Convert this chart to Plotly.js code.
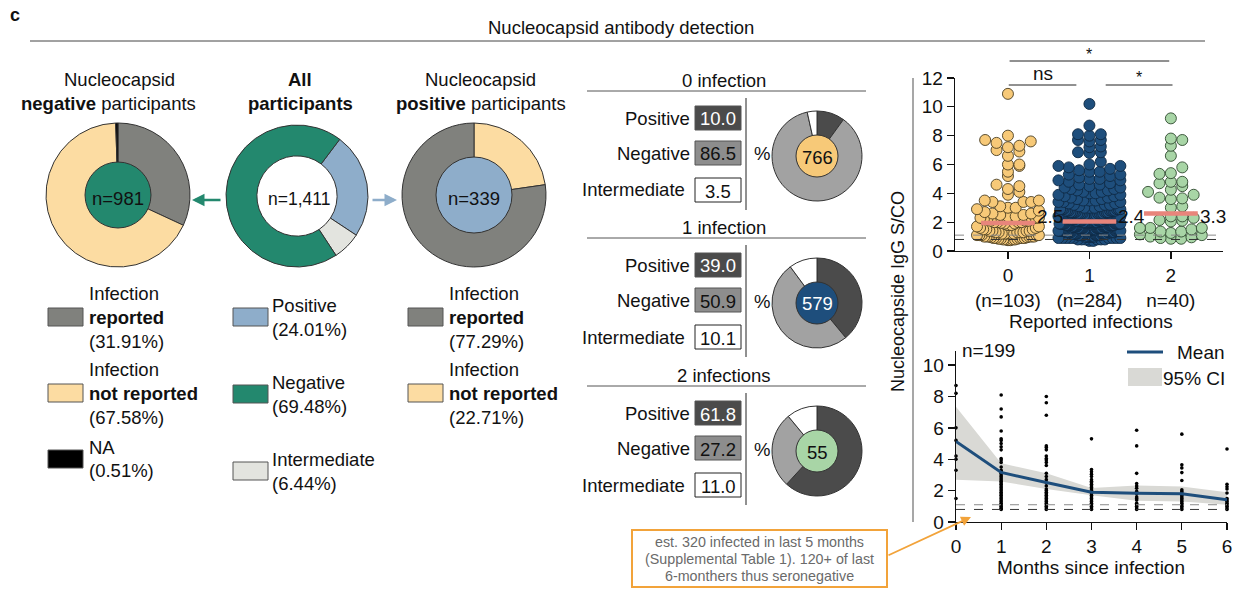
<!DOCTYPE html>
<html><head><meta charset="utf-8">
<script src="https://cdn.plot.ly/plotly-3.0.1.min.js"></script>
<style>html,body{margin:0;padding:0;background:#fff}#chart{width:1258px;height:591px}</style>
</head><body><div id="chart"></div>
<script>
// ================= DATA =================
const negLabels = ['Infection reported', 'Infection not reported', 'NA'];
const negValues = [31.91, 67.58, 0.51];
const negTotal = 981;
const allLabels = ['Positive', 'Intermediate', 'Negative'];
const allValues = [24.01, 6.44, 69.48];
const allTotal = 1411;
const posLabels = ['Infection not reported', 'Infection reported'];
const posValues = [22.71, 77.29];
const posTotal = 339;

const infectionGroups = ['0 infection', '1 infection', '2 infections'];
const groupTotals = [766, 579, 55];
const rowLabels = ['Positive', 'Negative', 'Intermediate'];
const pctPositive = [10.0, 39.0, 61.8];
const pctNegative = [86.5, 50.9, 27.2];
const pctIntermediate = [3.5, 10.1, 11.0];

const swarmCategories = [0, 1, 2];
const swarmTickText = ['0<br>(n=103)', '1<br>(n=284)', '2<br>n=40)'];
const igg0 = [10.9, 8.0, 7.7, 7.6, 7.5, 7.3, 7.2, 7.0, 6.9, 6.6, 6.0, 5.9, 6.0, 5.5, 5.2, 4.6, 4.5, 4.3, 4.1, 3.9,
  3.5, 3.5, 3.4, 3.4, 3.4, 3.1, 3.0, 3.0, 2.9, 2.8,
  2.7, 2.6, 2.6, 2.5, 2.5, 2.4, 2.4, 2.3, 2.3, 2.3, 2.2, 2.2, 2.2, 2.1, 2.1, 2.1, 2.0, 2.0, 2.0, 2.0, 1.95,
  1.9, 1.9, 1.8, 1.8, 1.7, 1.7, 1.6, 1.6, 1.5, 1.5, 1.5, 1.4, 1.4, 1.4, 1.4, 1.3, 1.3, 1.3, 1.3, 1.3,
  1.2, 1.2, 1.2, 1.2, 1.2, 1.1, 1.1, 1.1, 1.1, 1.1, 1.0, 1.0, 1.0, 1.0, 1.0, 1.0, 0.95, 0.95, 0.9, 0.9,
  0.9, 0.9, 0.9, 0.85, 0.85, 0.85, 0.8, 0.8, 0.8, 0.8, 0.75, 0.75];
const igg1 = [10.2, 8.7, 8.1, 8.1, 8.0, 7.7, 7.6, 7.7, 7.25, 7.2, 6.85, 6.8, 6.85, 6.2,
  6.0, 5.9, 5.9, 5.8, 5.7, 5.6, 5.5, 5.5,
  5.3, 5.3, 5.2, 5.1, 5.0, 5.0, 4.9, 4.9, 4.8,
  4.7, 4.6, 4.6, 4.5, 4.4, 4.4, 4.3, 4.3, 4.2, 4.2,
  4.1, 4.1, 4.0, 4.0, 3.9, 3.9, 3.8, 3.8, 3.7, 3.7, 3.6, 3.6,
  3.5, 3.5, 3.5, 3.4, 3.4, 3.4, 3.3, 3.3, 3.2, 3.2, 3.2, 3.1, 3.1, 3.0, 3.0, 3.0,
  2.9, 2.9, 2.9, 2.9, 2.9, 2.9, 2.8, 2.8, 2.8, 2.8, 2.8, 2.8, 2.8,
  2.7, 2.7, 2.7, 2.7, 2.7, 2.7, 2.7, 2.6, 2.6, 2.6, 2.6, 2.6, 2.6, 2.6, 2.6,
  2.5, 2.5, 2.5, 2.5, 2.5, 2.5, 2.5, 2.5, 2.4, 2.4, 2.4, 2.4, 2.4, 2.4, 2.4, 2.4, 2.4,
  2.3, 2.3, 2.3, 2.3, 2.3, 2.3, 2.3, 2.3, 2.3, 2.2, 2.2, 2.2, 2.2, 2.2, 2.2, 2.2, 2.2, 2.2, 2.2,
  2.1, 2.1, 2.1, 2.1, 2.1, 2.1, 2.1, 2.1, 2.1, 2.1, 2.1,
  2.0, 2.0, 2.0, 2.0, 2.0, 2.0, 2.0, 2.0, 2.0, 2.0, 2.0, 2.0,
  1.9, 1.9, 1.9, 1.9, 1.9, 1.9, 1.9, 1.9, 1.9, 1.9, 1.9, 1.9,
  1.8, 1.8, 1.8, 1.8, 1.8, 1.8, 1.8, 1.8, 1.8, 1.8, 1.8, 1.8,
  1.7, 1.7, 1.7, 1.7, 1.7, 1.7, 1.7, 1.7, 1.7, 1.7, 1.7, 1.7,
  1.6, 1.6, 1.6, 1.6, 1.6, 1.6, 1.6, 1.6, 1.6, 1.6, 1.6, 1.6,
  1.5, 1.5, 1.5, 1.5, 1.5, 1.5, 1.5, 1.5, 1.5, 1.5, 1.5, 1.5,
  1.4, 1.4, 1.4, 1.4, 1.4, 1.4, 1.4, 1.4, 1.4, 1.4, 1.4,
  1.3, 1.3, 1.3, 1.3, 1.3, 1.3, 1.3, 1.3, 1.3, 1.3, 1.3,
  1.2, 1.2, 1.2, 1.2, 1.2, 1.2, 1.2, 1.2, 1.2, 1.2,
  1.1, 1.1, 1.1, 1.1, 1.1, 1.1, 1.1, 1.1, 1.1, 1.1,
  1.0, 1.0, 1.0, 1.0, 1.0, 1.0, 1.0, 1.0, 1.0,
  0.9, 0.9, 0.9, 0.9, 0.9, 0.9, 0.9, 0.9, 0.9,
  0.8, 0.8, 0.8, 0.8, 0.8, 0.8, 0.7, 0.7];
const igg2 = [9.2, 7.8, 7.7, 7.3, 6.6, 5.8, 5.35, 5.4, 4.8, 4.8, 4.5, 4.7, 4.1, 4.25, 3.9, 3.7, 3.6, 3.65, 3.0, 3.1,
  2.3, 2.1, 2.4, 2.4, 2.05, 2.15, 1.6, 1.5, 1.6, 1.6, 1.35, 1.25, 1.1, 0.95, 0.85, 0.85, 0.9, 1.0, 1.15, 1.35];
const swarmMedians = [1.95, 2.05, 2.6];
const swarmMeanLabels = ['2.5', '2.4', '3.3'];
const cutoffs = [0.8, 1.1];

const months = [0, 1, 2, 3, 4, 5, 6];
const meanIgG = [5.13, 3.16, 2.52, 1.9, 1.84, 1.8, 1.42];
const ciUpper = [7.35, 3.75, 3.1, 2.16, 2.33, 2.27, 1.89];
const ciLower = [2.69, 2.58, 2.1, 1.7, 1.36, 1.31, 1.1];
const month0 = [8.7, 8.2, 6.0, 5.2, 4.2, 4.0, 3.3, 1.5];
const month1 = [8.1, 7.2, 6.7, 5.8, 5.3, 5.2, 5.0, 4.8, 4.6, 4.05, 3.95, 3.8, 3.5, 3.3, 3.2, 3.1, 3.0, 2.9, 2.8, 2.7,
  2.6, 2.5, 2.4, 2.3, 2.2, 2.1, 2.0, 1.9, 1.8, 1.7, 1.6, 1.5, 1.4, 1.3, 1.2, 1.1, 1.0, 0.9, 0.85, 0.8];
const month2 = [8.0, 7.6, 6.8, 4.85, 4.75, 4.6, 4.2, 4.05, 3.95, 3.8, 3.6, 3.1, 2.9, 2.7, 2.5, 2.3, 2.1, 2.0, 1.9,
  1.8, 1.7, 1.6, 1.5, 1.4, 1.3, 1.2, 1.1, 1.0, 0.9, 0.8];
const month3 = [5.3, 3.35, 3.2, 3.05, 2.9, 2.7, 2.6, 2.5, 2.4, 2.3, 2.2, 2.1, 2.0, 1.9, 1.8, 1.7, 1.6, 1.5, 1.4, 1.3,
  1.2, 1.1, 1.0, 0.9, 0.8];
const month4 = [5.85, 4.85, 3.1, 2.45, 2.3, 2.15, 1.95, 1.8, 1.6, 1.5, 1.4, 1.2, 1.1, 1.0, 0.9, 0.8];
const month5 = [5.6, 3.65, 3.45, 3.15, 2.65, 2.05, 1.95, 1.85, 1.7, 1.6, 1.5, 1.4, 1.3, 1.2, 1.1, 1.0, 0.9, 0.8];
const month6 = [4.65, 2.4, 2.25, 2.1, 1.85, 1.5, 1.4, 1.3, 1.2, 1.1, 1.0, 0.9, 0.8];
const trendN = 199;

const noteLines = ['est. 320 infected in last 5 months', '(Supplemental Table 1). 120+ of last', '6-monthers thus seronegative'];

// ================= STYLE / LAYOUT =================
const W = 1258, H = 591;
const FONT = 'Liberation Sans, Arial, Helvetica, sans-serif';
const FS = 18.5, FSR = 19;
const px = x => x / W;
const py = y => 1 - y / H;
const C = {
  gray: '#80817d', yellow: '#fcdca2', black: '#000000', blue: '#8eadca', green: '#23886e', inter: '#e3e4df',
  dark: '#4b4b4b', mid: '#a2a2a2', white: '#ffffff', y0: '#f7c978', b1: '#1e4e7c', g2: '#a8d5a6',
  red: '#e8857b', orange: '#f2a33a', outline: '#333333'
};
const traces = [], shapes = [], annotations = [];

function text(x, y, t, o = {}) {
  annotations.push(Object.assign({
    xref: 'paper', yref: 'paper', x: px(x), y: py(y), text: t, showarrow: false,
    xanchor: 'center', yanchor: 'middle'
  }, o, {font: Object.assign({family: FONT, size: FS, color: '#111'}, o.font || {})}));
}
function line(x0, y0, x1, y1, color, width, dash) {
  shapes.push({type: 'line', xref: 'paper', yref: 'paper', x0: px(x0), y0: py(y0), x1: px(x1), y1: py(y1),
    line: {color: color, width: width, dash: dash || 'solid'}});
}
function rect(x0, y0, x1, y1, fill, lc, lw) {
  shapes.push({type: 'rect', xref: 'paper', yref: 'paper', x0: px(x0), y0: py(y1), x1: px(x1), y1: py(y0),
    fillcolor: fill, line: {color: lc, width: lw}});
}
function dom(cx, cy, r) { return {x: [px(cx - r), px(cx + r)], y: [py(cy + r), py(cy - r)]}; }
function pie(cx, cy, r, values, labels, colors, extra) {
  traces.push(Object.assign({
    type: 'pie', values: values, labels: labels, sort: false, direction: 'clockwise', rotation: 0,
    textinfo: 'none', hoverinfo: 'skip', showlegend: false, domain: dom(cx, cy, r),
    marker: {colors: colors, line: {color: C.outline, width: 1}}
  }, extra || {}));
}

// ---- header ----
text(15, 15, '<b>c</b>', {font: {size: 18}});
text(621, 28, 'Nucleocapsid antibody detection');
line(30, 41, 1205, 41, '#444', 1);

// ---- left pies ----
text(119, 79, 'Nucleocapsid'); text(108, 103, '<b>negative</b> participants');
text(300, 79, '<b>All</b>'); text(300, 103, '<b>participants</b>');
text(480, 79, 'Nucleocapsid'); text(481, 103, '<b>positive</b> participants');

pie(118, 195, 72, negValues, negLabels, [C.gray, C.yellow, C.black]);
pie(118, 195, 33, [negTotal], ['n'], [C.green]);
text(118, 198, 'n=' + negTotal);

pie(297, 196, 71, allValues, allLabels, [C.blue, C.inter, C.green], {hole: 0.565, rotation: 37});
text(299, 199, 'n=' + allTotal.toLocaleString('en-US'), {font: {size: 17.5}});

pie(474, 195, 72, posValues, posLabels, [C.yellow, C.gray]);
pie(474, 195, 38, [posTotal], ['n'], [C.blue]);
text(474, 198, 'n=' + posTotal);

annotations.push({xref: 'paper', yref: 'paper', x: px(192), y: py(200), ax: 30, ay: 0, text: '', showarrow: true,
  arrowhead: 2, arrowsize: 1, arrowwidth: 2.5, arrowcolor: C.green});
annotations.push({xref: 'paper', yref: 'paper', x: px(397), y: py(200), ax: -26, ay: 0, text: '', showarrow: true,
  arrowhead: 2, arrowsize: 1, arrowwidth: 2.5, arrowcolor: C.blue});

// ---- left legends ----
const pct = v => '(' + v.toFixed(2) + '%)';
function legendItem(sx, tx, lineYs, color, lines) {
  const mid = (lineYs[0] + lineYs[lineYs.length - 1]) / 2;
  const sy = lines.length === 3 ? lineYs[1] : mid;
  rect(sx, sy - 9, sx + 35, sy + 9, color, '#555', 1);
  lines.forEach((t, i) => text(tx, lineYs[i], t, {xanchor: 'left'}));
}
legendItem(48, 87, [293, 317, 341], C.gray, ['Infection', '<b>reported</b>', pct(negValues[0])]);
legendItem(48, 87, [369, 393, 417], C.yellow, ['Infection', '<b>not reported</b>', pct(negValues[1])]);
legendItem(48, 87, [447, 471], C.black, [negLabels[2], pct(negValues[2])]);
legendItem(233, 270, [305, 329], C.blue, [allLabels[0], pct(allValues[0])]);
legendItem(233, 270, [382, 406], C.green, [allLabels[2], pct(allValues[2])]);
legendItem(233, 270, [459, 483], C.inter, [allLabels[1], pct(allValues[1])]);
legendItem(408, 447, [293, 317, 341], C.gray, ['Infection', '<b>reported</b>', pct(posValues[1])]);
legendItem(408, 447, [369, 393, 417], C.yellow, ['Infection', '<b>not reported</b>', pct(posValues[0])]);

// ---- middle tables ----
const headerY = [80, 227, 375];
const innerColors = [C.y0, C.b1, C.g2];
const innerText = ['#111', '#fff', '#111'];
infectionGroups.forEach((g, i) => {
  const hy = headerY[i];
  text(724, hy, g);
  line(587, hy + 11, 866, hy + 11, '#555', 1);
  line(746, hy + 18, 746, hy + 130, '#222', 1);
  const vals = [pctPositive[i], pctNegative[i], pctIntermediate[i]];
  const fills = [C.dark, '#8d8d8d', '#fff'];
  const tcol = ['#fff', '#111', '#111'];
  const rows = [hy + 38, hy + 73, hy + 110];
  rowLabels.forEach((lab, r) => {
    text(r === 2 ? 687 : 692, rows[r], lab, {xanchor: 'right'});
    rect(695, rows[r] - 12, 741, rows[r] + 12, fills[r], r === 2 ? '#222' : '#555', 1);
    text(718, rows[r] + 1, vals[r].toFixed(1), {font: {color: tcol[r]}});
  });
  text(762, rows[1] + 1, '%');
  const cy = hy + 76;
  pie(817, cy, 45, vals, rowLabels, [C.dark, C.mid, C.white]);
  pie(817, cy, 21, [groupTotals[i]], ['n'], [innerColors[i]]);
  text(817, cy + 1, String(groupTotals[i]), {font: {color: innerText[i]}});
});

// ---- note box ----
rect(632, 530, 887, 587, 'rgba(0,0,0,0)', C.orange, 2);
noteLines.forEach((t, i) => text(759, 542 + i * 17, t, {font: {size: 14.3, color: '#6a6a6a'}}));
annotations.push({xref: 'paper', yref: 'paper', x: px(971), y: py(517), ax: -84, ay: 39, text: '', showarrow: true,
  arrowhead: 2, arrowsize: 1.1, arrowwidth: 1.8, arrowcolor: C.orange});

// ---- shared y title + vertical line ----
text(898, 291, 'Nucleocapside IgG S/CO', {textangle: -90, font: {size: 18}});
line(913, 78, 913, 522, '#8a8a8a', 1.5);

// ---- swarm (top right) ----
function swarm(values, center, binH, stepU, maxHalfU) {
  const sorted = values.slice().sort((a, b) => a - b);
  const bins = new Map();
  sorted.forEach(v => { const k = Math.floor(v / binH); if (!bins.has(k)) bins.set(k, []); bins.get(k).push(v); });
  const xs = [], ys = [];
  bins.forEach(arr => {
    const half = Math.ceil((arr.length - 1) / 2);
    const step = half > 0 ? Math.min(stepU, maxHalfU / half) : 0;
    arr.forEach((v, i) => {
      const k = Math.ceil(i / 2), sgn = i % 2 === 1 ? 1 : -1;
      xs.push(center + sgn * k * step); ys.push(v);
    });
  });
  return {xs, ys};
}
const groups = [igg0, igg1, igg2];
const swFill = [C.y0, C.b1, C.g2];
const swLine = ['#4a3d20', '#0e2944', '#2f4a2f'];
const swBin = [0.6, 0.5, 0.6];
groups.forEach((vals, i) => {
  const s = swarm(vals, swarmCategories[i], swBin[i], 0.14, 0.38);
  traces.push({type: 'scatter', mode: 'markers', x: s.xs, y: s.ys, xaxis: 'x', yaxis: 'y', hoverinfo: 'skip',
    showlegend: false, cliponaxis: false,
    marker: {size: 11, color: swFill[i], line: {color: swLine[i], width: 0.9}}});
});
const mx = [], my = [];
swarmCategories.forEach((c, i) => { mx.push(c - 0.33, c + 0.33, null); my.push(swarmMedians[i], swarmMedians[i], null); });
traces.push({type: 'scatter', mode: 'lines', x: mx, y: my, xaxis: 'x', yaxis: 'y', hoverinfo: 'skip', showlegend: false,
  line: {color: C.red, width: 4.5}});
swarmCategories.forEach((c, i) => annotations.push({xref: 'x', yref: 'y', x: c + 0.33, y: 2.4, text: swarmMeanLabels[i],
  showarrow: false, xanchor: 'left', yanchor: 'middle', font: {family: FONT, size: FSR, color: '#111'}}));
cutoffs.forEach((c, i) => {
  shapes.push({type: 'line', xref: 'x domain', yref: 'y', x0: 0, x1: 1, y0: c, y1: c, line: {color: i ? '#8a8a8a' : '#333', width: 1, dash: 'dash'}});
  shapes.push({type: 'line', xref: 'x2 domain', yref: 'y2', x0: 0, x1: 1, y0: c, y1: c, line: {color: i ? '#8a8a8a' : '#333', width: 1, dash: 'dash'}});
});
// significance brackets
function bracket(x0, x1, yPix, label, labYPix, fs) {
  shapes.push({type: 'line', xref: 'x', yref: 'paper', x0: x0, x1: x1, y0: py(yPix), y1: py(yPix), line: {color: '#222', width: 1}});
  annotations.push({xref: 'x', yref: 'paper', x: (x0 + x1) / 2, y: py(labYPix), text: label, showarrow: false,
    xanchor: 'center', yanchor: 'middle', font: {family: FONT, size: fs, color: '#111'}});
}
bracket(0.02, 1.98, 61, '*', 54, 16);
bracket(0.01, 0.84, 85, 'ns', 73, FSR);
bracket(1.2, 2.02, 85, '*', 78, 16);
text(1091, 321, 'Reported infections', {font: {size: FSR}});

// ---- trend (bottom right) ----
traces.push({type: 'scatter', mode: 'lines', x: months, y: ciLower, xaxis: 'x2', yaxis: 'y2', line: {width: 0, color: '#d9d9d5'},
  hoverinfo: 'skip', showlegend: false});
traces.push({type: 'scatter', mode: 'lines', x: months, y: ciUpper, xaxis: 'x2', yaxis: 'y2', line: {width: 0, color: '#d9d9d5'},
  fill: 'tonexty', fillcolor: '#d9d9d5', hoverinfo: 'skip', showlegend: false});
const dx = [], dy = [];
[month0, month1, month2, month3, month4, month5, month6].forEach((arr, m) => arr.forEach(v => { dx.push(months[m]); dy.push(v); }));
traces.push({type: 'scatter', mode: 'markers', x: dx, y: dy, xaxis: 'x2', yaxis: 'y2', cliponaxis: false,
  marker: {size: 3.6, color: '#000'}, hoverinfo: 'skip', showlegend: false});
traces.push({type: 'scatter', mode: 'lines', x: months, y: meanIgG, xaxis: 'x2', yaxis: 'y2', line: {width: 3, color: C.b1},
  hoverinfo: 'skip', showlegend: false});
text(988, 350, 'n=' + trendN, {font: {size: FSR}});
line(1127, 352, 1163, 352, C.b1, 3);
text(1227, 352, 'Mean', {xanchor: 'right', font: {size: FSR}});
rect(1128, 368, 1162, 386, '#d9d9d5', '#d9d9d5', 0);
text(1227, 378, '95% CI', {xanchor: 'right', font: {size: FSR}});
text(1091, 567, 'Months since infection', {font: {size: FSR}});

const axBase = {showgrid: false, zeroline: false, showline: true, linecolor: '#111', linewidth: 1.3,
  ticks: 'outside', ticklen: 7, tickwidth: 1.3, tickcolor: '#111', tickfont: {family: FONT, size: FSR, color: '#111'}, fixedrange: true};

const layout = {
  width: W, height: H, margin: {l: 0, r: 0, t: 0, b: 0}, paper_bgcolor: '#fff', plot_bgcolor: 'rgba(0,0,0,0)',
  showlegend: false, font: {family: FONT, size: FS, color: '#111'},
  xaxis: Object.assign({}, axBase, {domain: [px(955), px(1223)], range: [-0.65, 2.64], anchor: 'y',
    tickvals: swarmCategories, ticktext: swarmTickText}),
  yaxis: Object.assign({}, axBase, {domain: [py(251), py(78)], range: [0, 12], anchor: 'x', tickvals: [0, 2, 4, 6, 8, 10, 12]}),
  xaxis2: Object.assign({}, axBase, {domain: [px(956), px(1227)], range: [0, 6], anchor: 'y2', tickvals: months}),
  yaxis2: Object.assign({}, axBase, {domain: [py(522), py(351)], range: [0, 10.9], anchor: 'x2', tickvals: [0, 2, 4, 6, 8, 10]}),
  shapes: shapes, annotations: annotations
};
Plotly.newPlot('chart', traces, layout, {displayModeBar: false, staticPlot: true});
</script>
</body></html>
